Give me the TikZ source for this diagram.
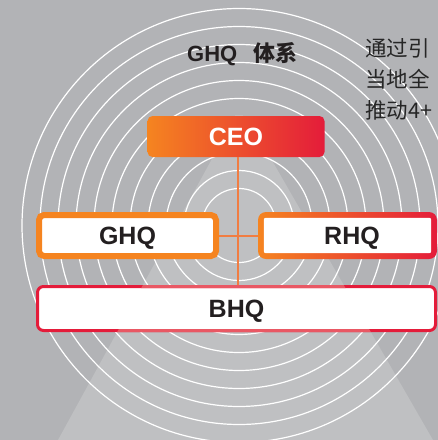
\documentclass[tikz,border=0pt]{standalone}
\usepackage{fontspec}
\setmainfont{Liberation Sans}
\newfontfamily\cjk{Noto Sans CJK SC}

\definecolor{bggray}{RGB}{178,179,182}
\definecolor{spotgray}{RGB}{191,192,194}
\definecolor{hqorange}{RGB}{245,132,32}
\definecolor{hqred}{RGB}{228,28,58}
\definecolor{bhqpale}{RGB}{233,88,100}
\definecolor{linkorange}{RGB}{241,125,66}
\definecolor{textdark}{RGB}{35,31,32}

\begin{document}
\begin{tikzpicture}[x=1pt,y=-1pt,
        hqtext/.style={font=\bfseries\fontsize{25}{25}\selectfont,text=textdark,text height=17.9pt,text depth=0pt},
        hq/.style={hqtext,rectangle,rounded corners=5pt,inner sep=0pt,minimum width=177pt,minimum height=41pt},
        intro/.style={anchor=base west,inner sep=0pt,font=\cjk\fontsize{21.5}{21.5}\selectfont,text=black!85},
        link/.style={draw=linkorange,line width=2pt}]
            \useasboundingbox (0,0) rectangle (438,440);
            \clip (0,0) rectangle (438,440);
            \fill[bggray] (0,0) rectangle (438,440);
            % spotlight and rings
            \fill[spotgray] (213,157) -- (270,157) -- (433,440) -- (58,440) -- cycle;
            \foreach \r in {37,55,...,217}
                \draw[white,line width=1.2pt] (239,225.5) circle (\r);
            % texts
            \node (title) at (187,61) [anchor=base west,inner sep=0pt,text=textdark,font=\bfseries\fontsize{22}{22}\selectfont] {GHQ\hspace{16pt}{\cjk 体系}};
            \node (intro1) at (365,56) [intro] {通过引};
            \node (intro2) at (365,87.5) [intro] {当地全};
            \node (intro3) at (365,118) [intro] {推动4+};
            % boxes
            \node (ceo) at (236,136.5) [hq,left color=hqorange,right color=hqred,text=white] {CEO};
            \node (ghq) at (127.5,235.5) [hq,draw=hqorange,line width=6pt,fill=white] {GHQ};
            \node (rhq) at (347.5,235.5) [hq,minimum width=179pt,minimum height=47pt,rounded corners=8pt,left color=hqorange,right color=hqred] {};
            \fill[white,rounded corners=2pt] ([shift={(6pt,-6pt)}]rhq.north west) rectangle ([shift={(-6pt,6pt)}]rhq.south east);
            \node (rhqlabel) at ([xshift=4.5pt]rhq.center) [hqtext] {RHQ};
            \node (bhq) at (236.5,308.5) [hq,draw=hqred,line width=3pt,fill=white,minimum width=398pt,minimum height=44pt,rounded corners=6pt] {BHQ};
            \begin{scope}
                \clip (213,157) -- (270,157) -- (433,440) -- (58,440) -- cycle;
                \draw[bhqpale,line width=3pt,rounded corners=6pt] ([shift={(1.5pt,-1.5pt)}]bhq.north west) rectangle ([shift={(-1.5pt,1.5pt)}]bhq.south east);
            \end{scope}
            % links
            \draw[link] ([xshift=2pt]ceo.south) -- ([xshift=2pt]ceo.south |- bhq.north);
            \draw[link] (ghq.east) -- (rhq.west);
        \end{tikzpicture}
\end{document}
